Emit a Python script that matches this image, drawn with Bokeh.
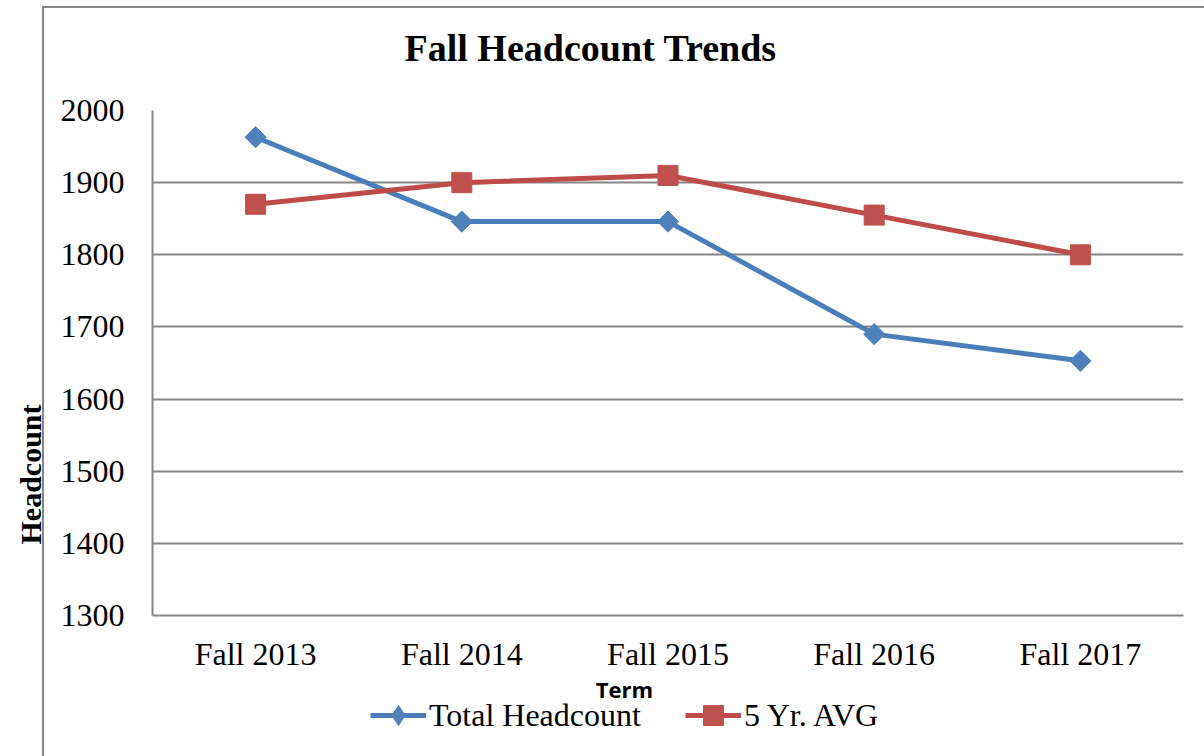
import numpy as np
from bokeh.plotting import figure
from bokeh.layouts import column
from bokeh.models import (ColumnDataSource, FactorRange, Range1d, FixedTicker, Legend,
                          LegendItem, Label, Title, InlineStyleSheet)
from bokeh.embed import file_html
from bokeh.resources import INLINE

terms = ["Fall 2013", "Fall 2014", "Fall 2015", "Fall 2016", "Fall 2017"]
total_headcount = [1963, 1846, 1846, 1690, 1653]
five_yr_avg = [1870, 1900, 1910, 1855, 1800]
y_ticks = [1300, 1400, 1500, 1600, 1700, 1800, 1900, 2000]

BLUE = "#4A7EBB"
RED = "#BE4B48"
BLUE_M = "#4F81BD"
RED_M = "#C0504D"
GRAY = "#868686"
SERIF = "Liberation Serif"
FRAME_W = 1031

src = ColumnDataSource(dict(term=terms, total=total_headcount, avg=five_yr_avg))

border_css = InlineStyleSheet(css="""
:host { position: relative; }
:host::after {
  content: "";
  position: absolute;
  left: 42px; top: 6px; right: 0px; bottom: 0px;
  border-left: 2px solid #868686;
  border-top: 2px solid #868686;
  pointer-events: none;
}
""")


def strip(height):
    f = figure(width=1204, height=height, x_range=Range1d(0, FRAME_W), y_range=Range1d(0, height),
               output_backend="svg", toolbar_location=None, x_axis_type=None, y_axis_type=None,
               min_border=0, min_border_left=152, min_border_right=21,
               min_border_top=0, min_border_bottom=0)
    f.outline_line_color = None
    f.grid.grid_line_color = None
    f.background_fill_alpha = 0
    f.border_fill_alpha = 0
    return f


# ---------------- title strip ----------------
tf = strip(90)
tf.add_layout(Label(x=252, y=43, text="Fall Headcount Trends", text_align="left",
                    text_baseline="alphabetic", text_font=SERIF, text_font_size="38px",
                    text_font_style="bold", text_color="black"))

# ---------------- main chart ----------------
p = figure(width=1204, height=584, x_range=FactorRange(*terms, range_padding=0),
           y_range=Range1d(1300, 2000), output_backend="svg", toolbar_location=None,
           min_border_left=152, min_border_right=21, min_border_top=20, min_border_bottom=58)

p.outline_line_color = None
p.background_fill_color = "white"
p.border_fill_alpha = 0

p.yaxis.ticker = FixedTicker(ticks=y_ticks)
p.ygrid.ticker = FixedTicker(ticks=y_ticks)
p.ygrid.grid_line_color = GRAY
p.ygrid.grid_line_width = 2
p.xgrid.grid_line_color = None

for ax in (p.xaxis[0], p.yaxis[0]):
    ax.axis_line_color = GRAY
    ax.axis_line_width = 2
    ax.major_tick_out = 0
    ax.major_tick_in = 0
    ax.minor_tick_out = 0
    ax.minor_tick_in = 0
    ax.major_label_text_font = SERIF
    ax.major_label_text_font_size = "32px"
    ax.major_label_text_color = "black"

p.yaxis.major_label_standoff = 28
p.xaxis.major_label_standoff = 20

# y-axis title ("Headcount"), sitting low along the left side as in the original
p.add_layout(Title(text="Headcount", align="left", offset=71, standoff=22,
                   text_font=SERIF, text_font_size="30px", text_font_style="bold",
                   text_color="black"), "left")

p.line("term", "total", source=src, line_color=BLUE, line_width=5)
p.scatter("term", "total", source=src, marker="square", angle=np.pi / 4, size=15,
          fill_color=BLUE_M, line_color=BLUE_M)
p.line("term", "avg", source=src, line_color=RED, line_width=5)
p.scatter("term", "avg", source=src, marker="square", size=20,
          fill_color=RED_M, line_color=RED_M)

# ---------------- axis title + legend strip ----------------
lg = strip(82)
lg.add_layout(Label(x=472, y=68, text="Term", text_align="center", text_baseline="alphabetic",
                    text_font="Open Sans", text_font_size="22px", text_font_style="bold",
                    text_color="black"))

# legend swatches: the series values fall far outside this strip's ranges,
# so only the legend swatches are visible here
r1 = lg.line("total", "total", source=src, line_color=BLUE, line_width=5)
s1 = lg.scatter("total", "total", source=src, marker="diamond", size=20,
                fill_color=BLUE_M, line_color=BLUE_M)
r2 = lg.line("avg", "avg", source=src, line_color=RED, line_width=5)
s2 = lg.scatter("avg", "avg", source=src, marker="square", size=20,
                fill_color=RED_M, line_color=RED_M)

legend = Legend(items=[LegendItem(label="Total Headcount", renderers=[r1, s1]),
                       LegendItem(label="5 Yr. AVG", renderers=[r2, s2])],
                orientation="horizontal", location=(218, 16),
                label_text_font=SERIF, label_text_font_size="32px", label_text_color="black",
                glyph_width=56, glyph_height=50, label_standoff=3, spacing=44,
                padding=0, margin=0, border_line_color=None, background_fill_alpha=0)
lg.add_layout(legend, "center")

layout = column(tf, p, lg, spacing=0, stylesheets=[border_css])

open("out.html", "w").write(file_html(layout, INLINE))
